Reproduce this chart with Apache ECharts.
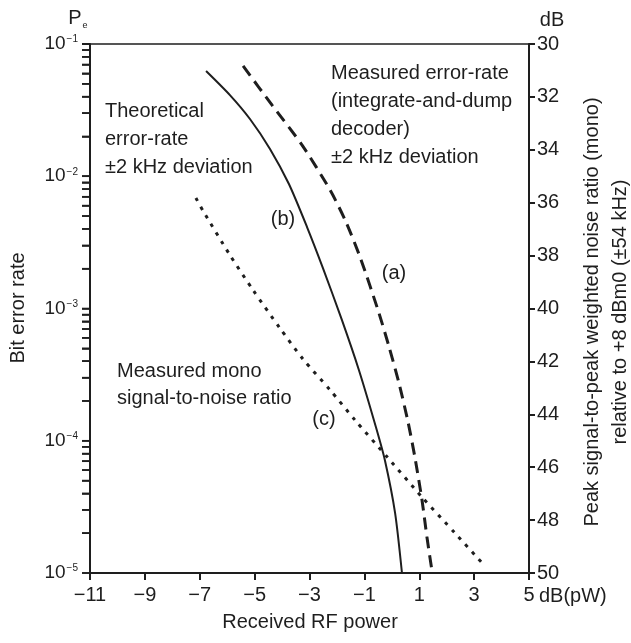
<!DOCTYPE html>
<html><head><meta charset="utf-8">
<script src="https://cdn.jsdelivr.net/npm/echarts@6/dist/echarts.min.js"></script>
<style>html,body{margin:0;padding:0;background:#fff}#c{width:631px;height:643px}</style>
</head><body><div id="c"></div>
<script>
// ---- data ----
const xTicks = [-11, -9, -7, -5, -3, -1, 1, 3, 5];
const berDecades = [1e-5, 1e-4, 1e-3, 1e-2, 1e-1];
const minorMultipliers = [2, 3, 4, 5, 6, 7, 8, 9];
// (b) theoretical error-rate (solid)
const rfPowerB = [-6.77, -5.90, -5.17, -4.44, -3.75, -3.09, -2.51, -1.82, -1.20, -0.58, -0.25, 0.12, 0.37];
const berB = [0.0625, 0.0411, 0.0271, 0.0161, 0.00873, 0.00413, 0.00202, 8.2e-4, 3.43e-4, 1.27e-4, 7.1e-5, 2.84e-5, 1.0e-5];
// (a) measured error-rate (dashed)
const rfPowerA = [-5.42, -4.37, -3.27, -2.25, -1.67, -1.12, -0.47, -0.10, 0.26, 0.59, 0.84, 1.10, 1.28, 1.46];
const berA = [0.0682, 0.0346, 0.0172, 0.00787, 0.00451, 0.00233, 9.25e-4, 5.12e-4, 2.73e-4, 1.39e-4, 7.53e-5, 3.56e-5, 1.87e-5, 1.05e-5];
// (c) measured mono signal-to-noise ratio (dotted, right axis dB)
const rfPowerC = [-7.14, -6.88, -5.90, -5.06, -4.08, -3.24, -2.25, -1.34, -0.14, 1.10, 2.30, 3.29];
const snrC = [35.82, 36.31, 37.98, 39.30, 40.74, 41.91, 43.08, 44.22, 45.65, 47.13, 48.49, 49.62];

const X_MIN = -11, X_MAX = 5;
const FONT = '"Liberation Sans", Arial, sans-serif';
const INK = '#1e1e1e';

const zip = (a, b) => a.map((v, i) => [v, b[i]]);
const logTickValues = berDecades.slice();
berDecades.slice(0, -1).forEach(d => minorMultipliers.forEach(m => logTickValues.push(+(m * d).toPrecision(3))));

const chart = echarts.init(document.getElementById('c'));

const T = (x, y, text, extra) => ({type: 'text', x, y, silent: true,
  style: Object.assign({text, fontFamily: FONT, fontSize: 20, fill: INK, align: 'center', verticalAlign: 'middle'}, extra || {})});

const textGraphics = [
  T(75, 18, 'P'),
  T(85, 26, 'e', {fontSize: 9}),
  T(552, 20, 'dB'),
  T(539, 596, 'dB(pW)', {align: 'left'}),
  T(310, 622, 'Received RF power'),
  Object.assign(T(18, 308, 'Bit error rate'), {rotation: Math.PI / 2}),
  Object.assign(T(606, 312, 'Peak signal-to-peak weighted noise ratio (mono)\nrelative to +8 dBm0 (\u00b154 kHz)', {lineHeight: 28}), {rotation: Math.PI / 2}),
  T(105, 97, 'Theoretical\nerror-rate\n\u00b12 kHz deviation', {lineHeight: 28, align: 'left', verticalAlign: 'top'}),
  T(331, 59, 'Measured error-rate\n(integrate-and-dump\ndecoder)\n\u00b12 kHz deviation', {lineHeight: 28, align: 'left', verticalAlign: 'top'}),
  T(117, 358, 'Measured mono\nsignal-to-noise ratio', {lineHeight: 27, align: 'left', verticalAlign: 'top'}),
  T(283, 219, '(b)'),
  T(394, 273, '(a)'),
  T(324, 419, '(c)')
];

chart.setOption({
  animation: false,
  backgroundColor: '#fff',
  grid: {left: 90, right: 102, top: 44, bottom: 70, show: true, borderColor: INK, borderWidth: 1.5, backgroundColor: 'transparent'},
  xAxis: {
    type: 'value', min: X_MIN, max: X_MAX,
    axisLine: {show: true, onZero: false, lineStyle: {color: INK, width: 2}},
    axisTick: {show: true, length: 7, lineStyle: {color: INK, width: 2}, customValues: xTicks},
    axisLabel: {show: true, margin: 12, fontFamily: FONT, fontSize: 20, color: INK, customValues: xTicks,
      formatter: v => String(v).replace('-', '\u2212')},
    splitLine: {show: false}
  },
  yAxis: [
    {
      type: 'log', logBase: 10, min: 1e-5, max: 1e-1, position: 'left', z: 10,
      axisLine: {show: true, onZero: false, lineStyle: {color: INK, width: 2}},
      axisTick: {show: true, length: 8, lineStyle: {color: INK, width: 1.6}},
      minorTick: {show: true, splitNumber: 9, length: 8, lineStyle: {color: INK, width: 1.6}},
      axisLabel: {show: true, margin: 12, color: INK,
        formatter: v => '{b|10}{s|\u2212' + Math.abs(Math.round(Math.log10(v))) + '}',
        rich: {
          b: {fontFamily: FONT, fontSize: 19, color: INK},
          s: {fontFamily: FONT, fontSize: 10, color: INK, verticalAlign: 'top', padding: [0, 0, 0, 1]}
        }},
      splitLine: {show: false}
    },
    {
      type: 'value', min: 30, max: 50, interval: 2, inverse: true, position: 'right',
      axisLine: {show: true, onZero: false, lineStyle: {color: INK, width: 2}},
      axisTick: {show: true, length: 6, lineStyle: {color: INK, width: 2}},
      axisLabel: {show: true, margin: 8, fontFamily: FONT, fontSize: 20, color: INK},
      splitLine: {show: false}
    }
  ],
  series: [
    {
      type: 'line', name: '(b)', xAxisIndex: 0, yAxisIndex: 0, data: zip(rfPowerB, berB),
      showSymbol: false, smooth: 0.25, lineStyle: {color: INK, width: 2}, z: 3
    },
    {
      type: 'line', name: '(a)', xAxisIndex: 0, yAxisIndex: 0, data: zip(rfPowerA, berA),
      showSymbol: false, smooth: 0.25, lineStyle: {color: INK, width: 3, type: [12, 7]}, z: 3
    },
    {
      type: 'line', name: '(c)', xAxisIndex: 0, yAxisIndex: 1, data: zip(rfPowerC, snrC),
      showSymbol: false, smooth: 0.25, lineStyle: {color: INK, width: 3, type: [3.5, 6.5]}, z: 3
    }
  ],
  graphic: textGraphics
});

// log-axis ticks (decades and 2..9 minors) placed through the axis scales, on a top layer
const axisX = chart.convertToPixel({xAxisIndex: 0}, X_MIN);
const tickGraphics = logTickValues.map(v => {
  const y = chart.convertToPixel({yAxisIndex: 0}, v);
  return {type: 'line', silent: true, zlevel: 1, z: 100,
    shape: {x1: axisX - 8, y1: y, x2: axisX, y2: y},
    style: {stroke: INK, lineWidth: 1.6}};
});
chart.setOption({graphic: textGraphics.concat(tickGraphics)});
</script>
</body></html>
